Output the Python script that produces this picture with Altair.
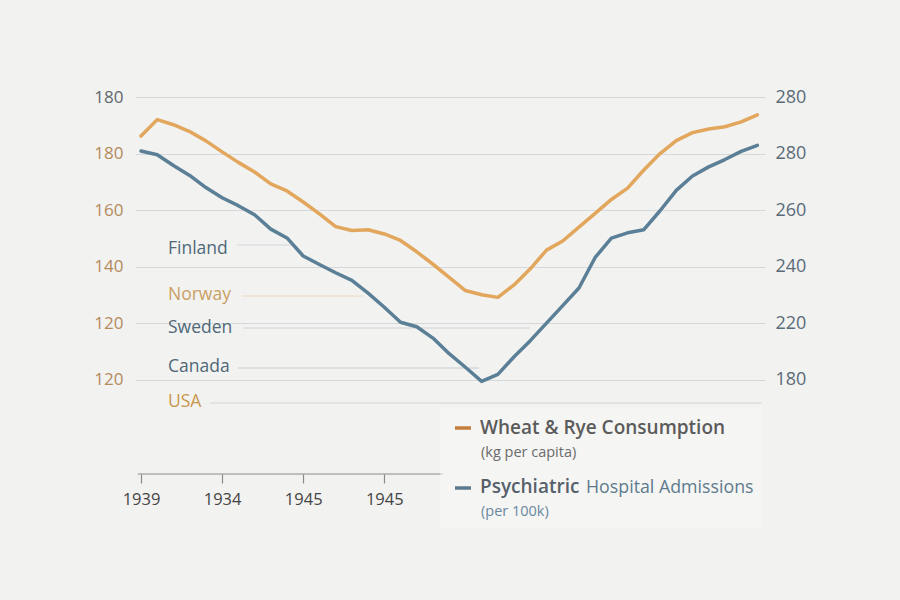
import altair as alt
import pandas as pd

# ---- data -------------------------------------------------------------
step = list(range(39))  # yearly steps along the x axis

wheat = [186.2, 192.0, 190.2, 187.8, 184.5, 180.6, 176.9, 173.5, 169.3, 166.8,
         162.9, 158.7, 154.2, 152.8, 153.1, 151.6, 149.3, 145.3, 140.9, 136.3,
         131.6, 130.1, 129.2, 133.6, 139.3, 145.9, 149.1, 154.0, 158.9, 163.8,
         167.8, 174.2, 180.0, 184.6, 187.4, 188.7, 189.5, 191.2, 193.7]

psych = [180.9, 179.6, 175.8, 172.3, 168.0, 164.4, 161.6, 158.4, 153.3, 150.2,
         143.8, 140.8, 137.9, 135.2, 130.7, 125.7, 120.4, 118.8, 114.8, 109.3,
         104.5, 99.5, 102.0, 108.2, 113.9, 120.1, 126.3, 132.5, 143.3, 150.1,
         152.0, 153.1, 159.8, 167.0, 172.1, 175.3, 177.9, 180.8, 182.9]

x_ticks = [0, 5, 10, 15]
x_tick_labels = ["1939", "1934", "1945", "1945"]

grid_values = [100, 120, 140, 160, 180, 200]
left_labels = ["120", "120", "140", "160", "180", "180"]
right_labels = ["180", "220", "240", "260", "280", "280"]

countries = ["Finland", "Norway", "Sweden", "Canada", "USA"]

# ---- layout / style ---------------------------------------------------
W, H = 630, 377
Y_DOMAIN = [66.78, 200]
X_DOMAIN = [-0.37, 38.47]
AXIS_SPAN = (-0.2, 18.6)

FONT = "Open Sans"
ORANGE = "#e2a65c"
BLUE = "#5a7f96"
BG = "#f2f2f0"
GRID = "#d6d9db"

# country label rows: (label y, text colour, leader x0, leader x1, leader y, leader colour)
country_style = [
    (152, "#4f6878", 102, 160, 148, "#dde0e2"),
    (198, "#c9a063", 107, 228, 199, "#eee2d2"),
    (231, "#4f6878", 108, 395, 231, "#dadde0"),
    (270, "#4f6878", 103, 344, 271, "#d6d9dc"),
    (305, "#c9984f", 75, 627, 306, "#dcdedf"),
]

df = pd.DataFrame({"step": step, "wheat": wheat, "psych": psych})


def label_expr(labels, start, spacing):
    arr = "[" + ",".join(f"'{s}'" for s in labels) + "]"
    return f"{arr}[round((datum.value - {start}) / {spacing})]"


x_enc = alt.X(
    "step:Q",
    scale=alt.Scale(domain=X_DOMAIN, nice=False, zero=False),
    axis=alt.Axis(
        values=x_ticks,
        labelExpr=label_expr(x_tick_labels, 0, 5),
        title=None,
        grid=False,
        domain=False,
        ticks=True,
        tickSize=9,
        tickColor="#8a8a8a",
        tickWidth=1.2,
        labelFont=FONT,
        labelFontSize=16.5,
        labelColor="#444444",
        labelPadding=8,
    ),
)

wheat_line = alt.Chart(df).mark_line(
    color=ORANGE, strokeWidth=3.5, strokeJoin="round", strokeCap="round"
).encode(
    x=x_enc,
    y=alt.Y(
        "wheat:Q",
        scale=alt.Scale(domain=Y_DOMAIN, nice=False, zero=False),
        axis=alt.Axis(
            orient="left",
            values=grid_values,
            labelExpr=label_expr(left_labels, 100, 20),
            title=None,
            domain=False,
            ticks=False,
            grid=True,
            gridColor=GRID,
            gridWidth=1.2,
            labelFont=FONT,
            labelFontSize=17,
            labelColor={"condition": {"test": "datum.value >= 200", "value": "#5f676d"},
                        "value": "#b48a5c"},
            labelPadding=12,
        ),
    ),
)

psych_line = alt.Chart(df).mark_line(
    color=BLUE, strokeWidth=3.5, strokeJoin="round", strokeCap="round"
).encode(
    x=x_enc,
    y=alt.Y(
        "psych:Q",
        scale=alt.Scale(domain=Y_DOMAIN, nice=False, zero=False),
        axis=alt.Axis(
            orient="right",
            values=grid_values,
            labelExpr=label_expr(right_labels, 100, 20),
            title=None,
            domain=False,
            ticks=False,
            grid=False,
            labelFont=FONT,
            labelFontSize=18,
            labelColor="#5a6b78",
            labelPadding=10,
        ),
    ),
)

# short x axis baseline
axis_line = alt.Chart(pd.DataFrame({"a": [AXIS_SPAN[0]], "b": [AXIS_SPAN[1]]})).mark_rule(
    color="#8a8a8a", strokeWidth=1.2
).encode(x=alt.X("a:Q", scale=alt.Scale(domain=X_DOMAIN, nice=False, zero=False)),
         x2="b:Q", y=alt.value(H))

one = pd.DataFrame({"k": [0]})

# country labels with faint leader lines
leaders = []
labels = []
for name, (ly, col, lx0, lx1, lyy, lcol) in zip(countries, country_style):
    leaders.append(
        alt.Chart(one).mark_rule(color=lcol, strokeWidth=1.3).encode(
            x=alt.value(lx0), x2=alt.value(lx1), y=alt.value(lyy)
        )
    )
    labels.append(
        alt.Chart(one).mark_text(
            text=name, font=FONT, fontSize=17.5, color=col, align="left", baseline="middle"
        ).encode(x=alt.value(33), y=alt.value(ly))
    )

# legend panel
legend_box = alt.Chart(one).mark_rect(color="#f8f8f7", opacity=0.55).encode(
    x=alt.value(305), x2=alt.value(627), y=alt.value(310), y2=alt.value(431)
)
dash_w = alt.Chart(one).mark_rule(color="#c47f3a", strokeWidth=3.5).encode(
    x=alt.value(320), x2=alt.value(336), y=alt.value(331)
)
dash_p = alt.Chart(one).mark_rule(color="#5b7a8f", strokeWidth=3.5).encode(
    x=alt.value(320), x2=alt.value(336), y=alt.value(391)
)


def legend_text(txt, x, y, size, color, weight="normal"):
    return alt.Chart(one).mark_text(
        text=txt, font=FONT, fontSize=size, color=color, fontWeight=weight,
        align="left", baseline="alphabetic"
    ).encode(x=alt.value(x), y=alt.value(y))


legend_items = [
    dash_w, dash_p,
    legend_text("Wheat & Rye Consumption", 345, 337, 19, "#5b5b5b", 600),
    legend_text("(kg per capita)", 346, 360, 14.5, "#6b6b6b"),
    legend_text("Psychiatric", 345, 396, 19, "#55606a", 600),
    legend_text("Hospital Admissions", 451, 396, 17.8, "#5e7b8d"),
    legend_text("(per 100k)", 346, 419, 14.5, "#6a88a0"),
]

chart = alt.layer(
    *leaders, axis_line, legend_box, wheat_line, psych_line, *labels, *legend_items
).resolve_scale(y="independent").properties(
    width=W,
    height=H,
    autosize="none",
    padding={"left": 135, "top": 97, "right": 135, "bottom": 126},
    background=BG,
).configure_view(stroke=None)

chart.save("out.html", embed_options={"renderer": "svg", "actions": False})
